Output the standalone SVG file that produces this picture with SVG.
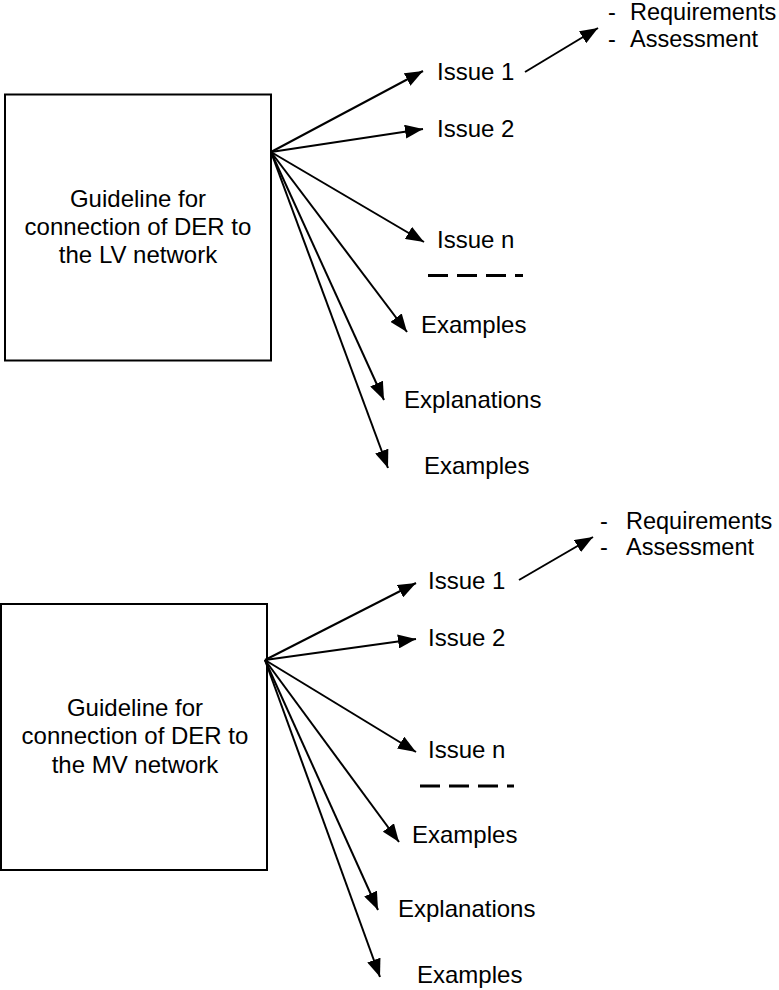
<svg xmlns="http://www.w3.org/2000/svg" width="779" height="990" viewBox="0 0 779 990">
  <style>
    .box { fill: #ffffff; stroke: #000000; stroke-width: 2; }
    .lbl { font-family: "Liberation Sans", Arial, sans-serif; font-size: 24px; fill: #000000; }
    .sm { font-size: 23.5px; }
    .mid { text-anchor: middle; }
    .arr { stroke: #000000; stroke-width: 2; fill: none; marker-end: url(#head); }
    .dash { stroke: #000000; stroke-width: 3.2; stroke-dasharray: 20 9; fill: none; }
  </style>
  <defs>
    <marker id="head" markerUnits="userSpaceOnUse" markerWidth="20" markerHeight="14" refX="18" refY="7" orient="auto">
      <path d="M0,0 L18,7 L0,14 Z" fill="#000000"/>
    </marker>
  </defs>
  <rect width="779" height="990" fill="#ffffff"/>

  <!-- LV guideline -->
  <g id="lv-guideline">
    <rect class="box" x="5" y="94.5" width="266" height="266"/>
    <text class="lbl mid" x="138" y="207">Guideline for</text>
    <text class="lbl mid" x="138" y="235">connection of DER to</text>
    <text class="lbl mid" x="138" y="263">the LV network</text>
  </g>
  <g id="lv-issue1"><text class="lbl" x="437" y="80">Issue 1</text></g>
  <g id="lv-issue2"><text class="lbl" x="437" y="137">Issue 2</text></g>
  <g id="lv-issuen"><text class="lbl" x="437" y="248">Issue n</text></g>
  <g id="lv-more"><line class="dash" x1="428" y1="275.5" x2="523" y2="275.5"/></g>
  <g id="lv-examples1"><text class="lbl" x="421" y="333">Examples</text></g>
  <g id="lv-explanations"><text class="lbl" x="404" y="408">Explanations</text></g>
  <g id="lv-examples2"><text class="lbl" x="424" y="474">Examples</text></g>
  <g id="lv-details">
    <text class="lbl sm" x="608" y="20">-</text>
    <text class="lbl sm" x="630" y="20">Requirements</text>
    <text class="lbl sm" x="608" y="47">-</text>
    <text class="lbl sm" x="630" y="47">Assessment</text>
  </g>

  <!-- MV guideline -->
  <g id="mv-guideline">
    <rect class="box" x="1" y="604" width="266" height="266"/>
    <text class="lbl mid" x="135" y="716">Guideline for</text>
    <text class="lbl mid" x="135" y="744">connection of DER to</text>
    <text class="lbl mid" x="135" y="773">the MV network</text>
  </g>
  <g id="mv-issue1"><text class="lbl" x="428" y="589">Issue 1</text></g>
  <g id="mv-issue2"><text class="lbl" x="428" y="646">Issue 2</text></g>
  <g id="mv-issuen"><text class="lbl" x="428" y="758">Issue n</text></g>
  <g id="mv-more"><line class="dash" x1="420" y1="786" x2="514" y2="786"/></g>
  <g id="mv-examples1"><text class="lbl" x="412" y="843">Examples</text></g>
  <g id="mv-explanations"><text class="lbl" x="398" y="917">Explanations</text></g>
  <g id="mv-examples2"><text class="lbl" x="417" y="983">Examples</text></g>
  <g id="mv-details">
    <text class="lbl sm" x="600" y="529">-</text>
    <text class="lbl sm" x="626" y="529">Requirements</text>
    <text class="lbl sm" x="600" y="555">-</text>
    <text class="lbl sm" x="626" y="555">Assessment</text>
  </g>

  <!-- connectors -->
  <g id="connectors">
    <line class="arr" x1="271" y1="152" x2="423" y2="71"/>
    <line class="arr" x1="271" y1="152" x2="423" y2="129"/>
    <line class="arr" x1="271" y1="152" x2="424" y2="242"/>
    <line class="arr" x1="271" y1="152" x2="407" y2="332"/>
    <line class="arr" x1="271" y1="152" x2="384" y2="400"/>
    <line class="arr" x1="271" y1="152" x2="388" y2="468"/>
    <line class="arr" x1="525" y1="72" x2="598" y2="28"/>

    <line class="arr" x1="265" y1="660" x2="416" y2="583"/>
    <line class="arr" x1="265" y1="660" x2="416" y2="639"/>
    <line class="arr" x1="265" y1="660" x2="416" y2="752"/>
    <line class="arr" x1="265" y1="660" x2="399" y2="842"/>
    <line class="arr" x1="265" y1="660" x2="378" y2="910"/>
    <line class="arr" x1="265" y1="660" x2="380" y2="977"/>
    <line class="arr" x1="519" y1="580" x2="593" y2="537"/>
  </g>
</svg>
